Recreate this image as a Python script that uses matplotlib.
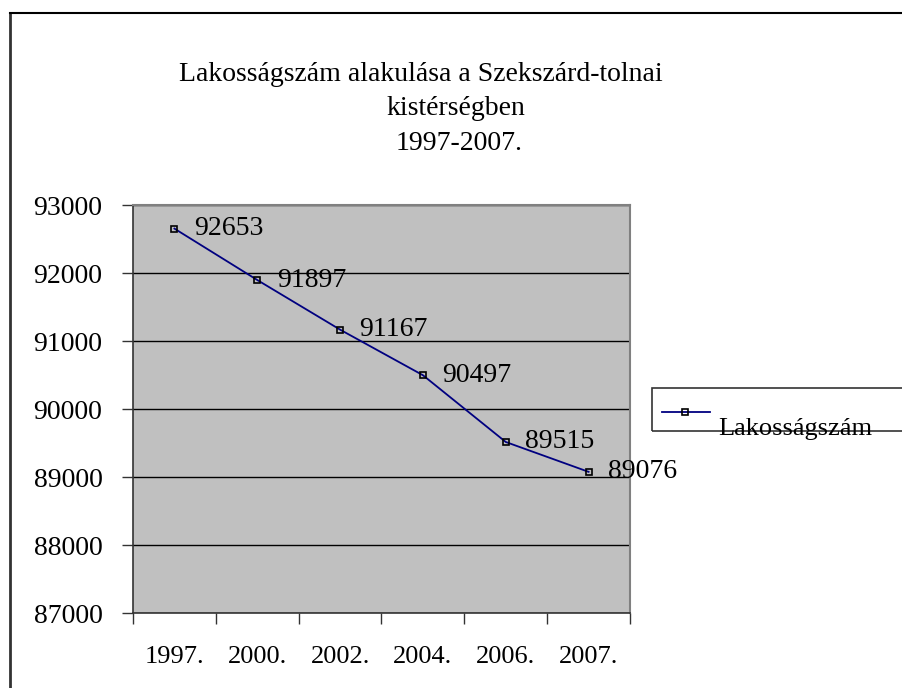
' Lakosságszám alakulása a Szekszárd-tolnai kistérségben '

import matplotlib
matplotlib.use('Agg')
import matplotlib.pyplot as plt
from matplotlib.lines import Line2D
from matplotlib.patches import Rectangle

years = ['1997.', '2000.', '2002.', '2004.', '2006.', '2007.']
population = [92653, 91897, 91167, 90497, 89515, 89076]
title_lines = ['Lakosságszám alakulása a Szekszárd-tolnai', 'kistérségben', '1997-2007.']
series_name = 'Lakosságszám'

plt.rcParams['font.family'] = ['Liberation Serif', 'DejaVu Serif']

W, H = 903, 688
fig = plt.figure(figsize=(W / 100, H / 100), dpi=100)

def fx(px):
    return px / W

def fy(py):
    return 1 - py / H

# outer chart border (right and bottom are off the picture)
fig.add_artist(Line2D([fx(10), fx(10)], [fy(13), 0], transform=fig.transFigure, color='#333333', lw=2))
fig.add_artist(Line2D([fx(10), 1], [fy(13), fy(13)], transform=fig.transFigure, color='black', lw=1.5))

ax = fig.add_axes([fx(133), fy(613), fx(630) - fx(133), fy(205) - fy(613)])
ax.set_facecolor('#C0C0C0')
for side in ['top', 'right']:
    ax.spines[side].set_color('#808080')
    ax.spines[side].set_linewidth(1.5)
for side in ['left', 'bottom']:
    ax.spines[side].set_color('#333333')
    ax.spines[side].set_linewidth(1.2)

ax.set_ylim(87000, 93000)
ax.set_yticks(range(87000, 93001, 1000))
ax.set_xlim(-0.5, len(years) - 0.5)
ax.set_xticks(range(len(years)))
ax.set_xticklabels(years)
ax.set_xticks([i - 0.5 for i in range(len(years) + 1)], minor=True)
ax.tick_params(axis='x', which='major', length=0, pad=24, labelsize=19)
ax.tick_params(axis='x', which='minor', length=8, width=1, color='#333333')
ax.tick_params(axis='y', length=8, width=1, color='#333333', pad=14, labelsize=20)
ax.grid(axis='y', color='black', lw=1)
ax.set_axisbelow(True)

ax.plot(range(len(years)), population, color='#000080', lw=1.3,
        marker='s', markersize=5, mfc='none', mec='black', mew=1.2)
for i, v in enumerate(population):
    ax.annotate(str(v), (i, v), xytext=(14, 0), textcoords='offset points',
                ha='left', va='center', fontsize=20)

title_y = [81, 115, 150]
title_x = [421, 456, 459]
for line, x, y in zip(title_lines, title_x, title_y):
    fig.text(fx(x), fy(y), line, ha='center', va='baseline', fontsize=20)

# legend box, cut off by the picture edge like in the original
fig.add_artist(Rectangle((fx(652), fy(431)), 1, fy(388) - fy(431), transform=fig.transFigure,
                         fill=False, edgecolor='#333333', lw=1.2))
fig.add_artist(Line2D([fx(662), fx(710)], [fy(412), fy(412)], transform=fig.transFigure,
                      color='#000080', lw=1.3))
fig.add_artist(Line2D([fx(685)], [fy(412)], transform=fig.transFigure, marker='s',
                      markersize=5, mfc='none', mec='black', mew=1.2, lw=0))
fig.text(fx(718), fy(435), series_name, ha='left', va='baseline', fontsize=19)

fig.savefig('out.png', dpi=100)
